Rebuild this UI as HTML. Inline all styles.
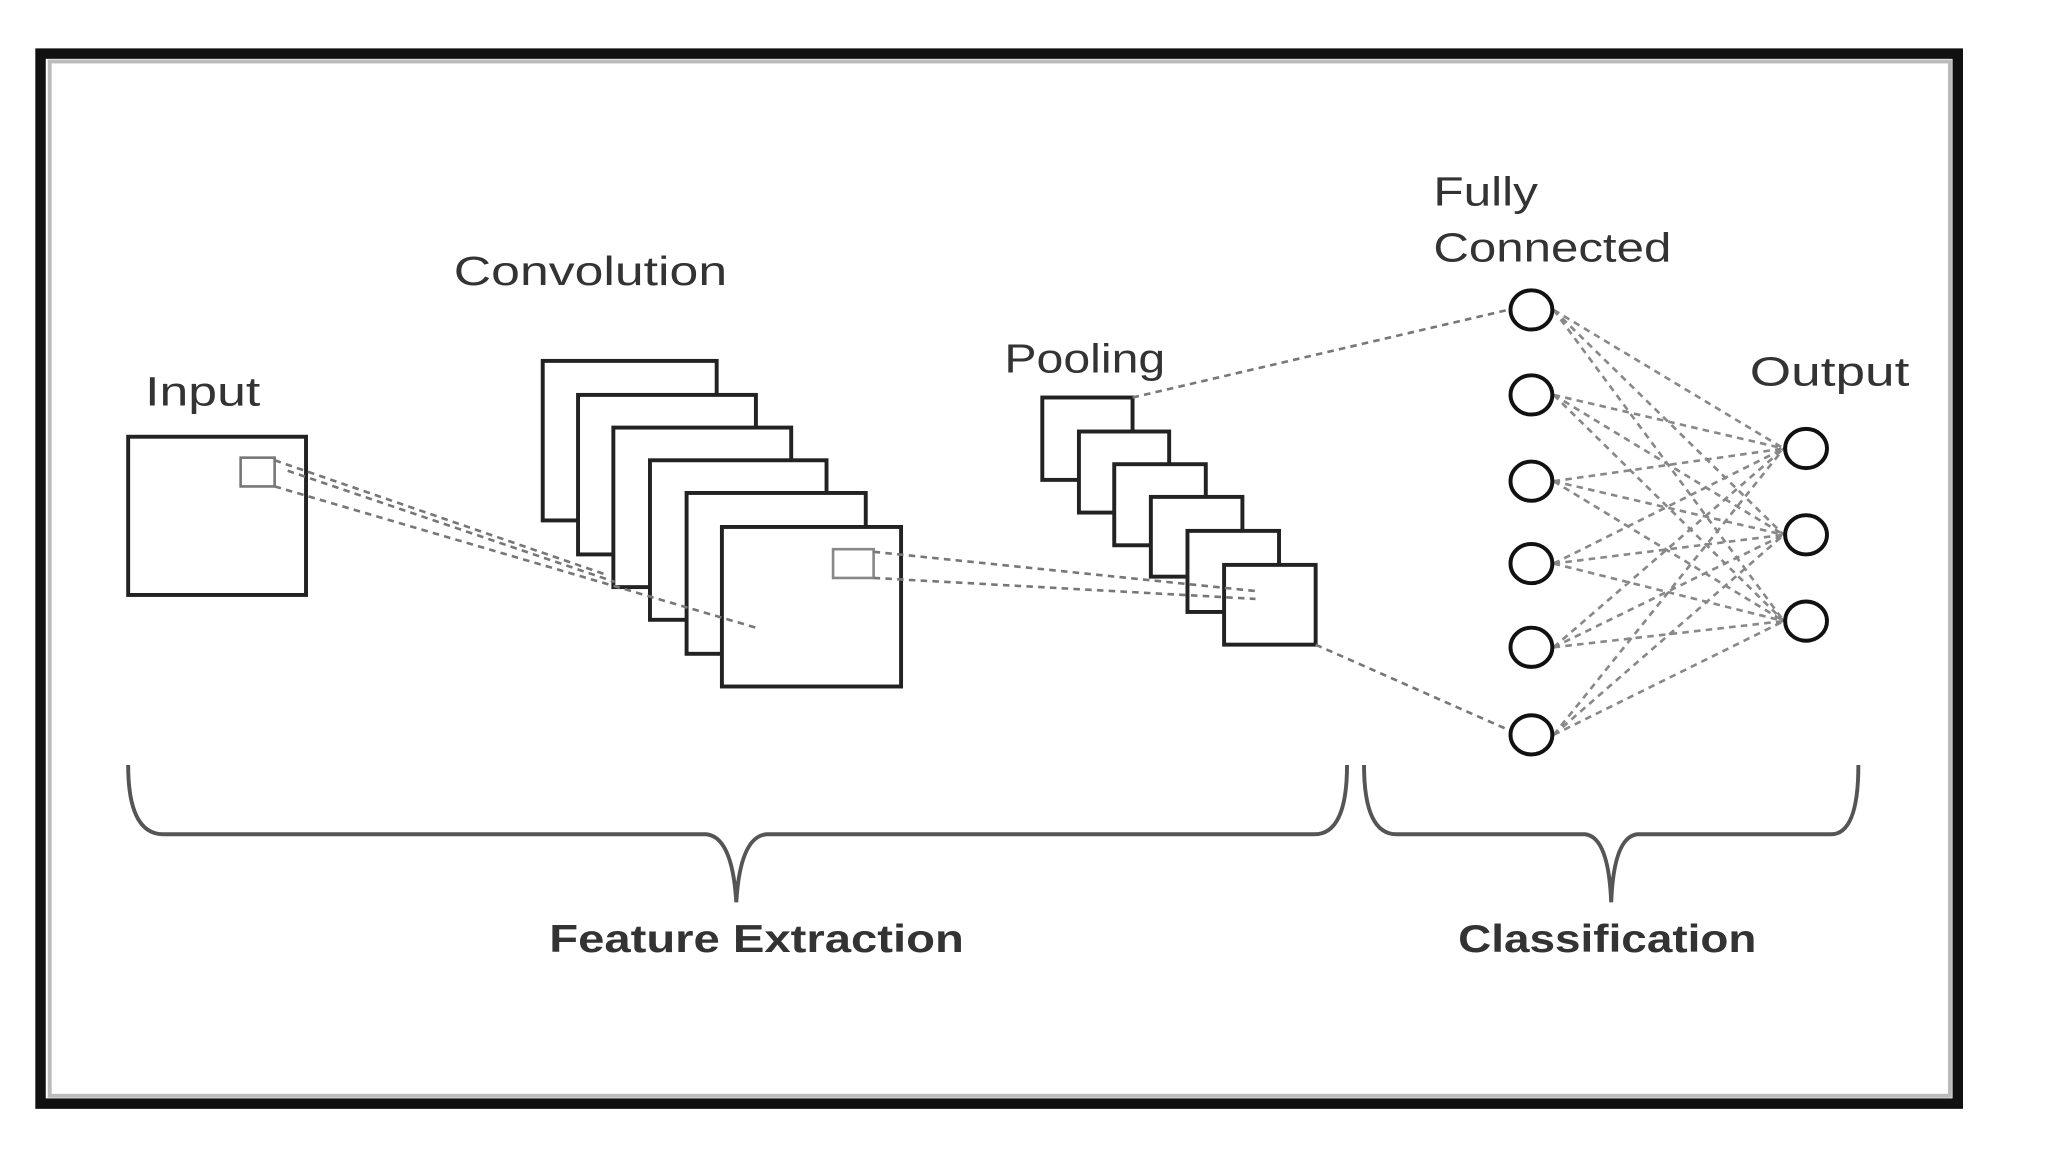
<!DOCTYPE html>
<html><head><style>
html,body{margin:0;padding:0;background:#fff;}
svg{display:block;}
text{font-family:"Liberation Sans",sans-serif;fill:#333;}
</style></head><body>
<svg width="2048" height="1152" viewBox="0 0 1566 881" preserveAspectRatio="none" xmlns="http://www.w3.org/2000/svg">
<rect x="0" y="0" width="1566" height="881" fill="#fff"/>
<rect x="31" y="41" width="1466" height="803" fill="none" stroke="#111" stroke-width="8"/>
<rect x="38" y="47" width="1453" height="791" fill="none" stroke="#bbb" stroke-width="3"/>

<g fill="#fff" stroke="#222" stroke-width="3">
<rect x="98" y="334" width="136" height="121"/>
<rect x="184" y="350" width="26" height="22" stroke="#777" stroke-width="2"/>
<rect x="415" y="276" width="133" height="122"/>
<rect x="442" y="302" width="136" height="122"/>
<rect x="469" y="327" width="136" height="122"/>
<rect x="497" y="352" width="135" height="122"/>
<rect x="525" y="377" width="137" height="123"/>
<rect x="552" y="403" width="137" height="122"/>
<rect x="637" y="420" width="31" height="22" stroke="#888" stroke-width="2"/>
<rect x="797" y="304" width="69" height="63"/>
<rect x="825" y="330" width="69" height="62"/>
<rect x="852" y="355" width="70" height="62"/>
<rect x="880" y="380" width="70" height="61"/>
<rect x="908" y="406" width="70" height="62"/>
<rect x="936" y="432" width="70" height="61"/>
</g>

<g stroke="#777" stroke-width="2" stroke-dasharray="5,4" fill="none">
<line x1="210" y1="352" x2="465" y2="440"/>
<line x1="210" y1="372" x2="578" y2="480"/>
<line x1="220" y1="360" x2="470" y2="445"/>
<line x1="668" y1="422" x2="960" y2="452"/>
<line x1="668" y1="442" x2="960" y2="458"/>
<line x1="866" y1="304" x2="1153" y2="237"/>
<line x1="1006" y1="493" x2="1153" y2="558"/>
</g>
<g stroke="#888" stroke-width="2" stroke-dasharray="5,4" fill="none">
<path d="M1188 237L1364 343M1188 237L1364 409M1188 237L1364 475
M1188 302L1364 343M1188 302L1364 409M1188 302L1364 475
M1188 368L1364 343M1188 368L1364 409M1188 368L1364 475
M1188 431L1364 343M1188 431L1364 409M1188 431L1364 475
M1188 495L1364 343M1188 495L1364 409M1188 495L1364 475
M1188 562L1364 343M1188 562L1364 409M1188 562L1364 475"/>
</g>
<g fill="#fff" stroke="#111" stroke-width="3">
<ellipse cx="1171" cy="237" rx="16" ry="15"/>
<ellipse cx="1171" cy="302" rx="16" ry="15"/>
<ellipse cx="1171" cy="368" rx="16" ry="15"/>
<ellipse cx="1171" cy="431" rx="16" ry="15"/>
<ellipse cx="1171" cy="495" rx="16" ry="15"/>
<ellipse cx="1171" cy="562" rx="16" ry="15"/>
<ellipse cx="1381" cy="343" rx="16" ry="15"/>
<ellipse cx="1381" cy="409" rx="16" ry="15"/>
<ellipse cx="1381" cy="475" rx="16" ry="15"/>
</g>

<g fill="none" stroke="#555" stroke-width="3">
<path d="M98 585 Q98 638 125 638 L540 638 Q560 640 563 690 Q566 640 586 638 L1005 638 Q1030 638 1030 585"/>
<path d="M1043 585 Q1043 638 1068 638 L1212 638 Q1230 640 1232 690 Q1234 640 1252 638 L1400 638 Q1421 638 1421 585"/>
</g>

<g lengthAdjust="spacingAndGlyphs">
<text x="111" y="310" font-size="31" textLength="88" lengthAdjust="spacingAndGlyphs">Input</text>
<text x="347" y="218" font-size="31" textLength="209" lengthAdjust="spacingAndGlyphs">Convolution</text>
<text x="768" y="285" font-size="31" textLength="123" lengthAdjust="spacingAndGlyphs">Pooling</text>
<text x="1096" y="157" font-size="31" textLength="80" lengthAdjust="spacingAndGlyphs">Fully</text>
<text x="1096" y="200" font-size="31" textLength="182" lengthAdjust="spacingAndGlyphs">Connected</text>
<text x="1338" y="295" font-size="31" textLength="122" lengthAdjust="spacingAndGlyphs">Output</text>
<text x="420" y="728" font-size="30" font-weight="bold" fill="#222" textLength="317" lengthAdjust="spacingAndGlyphs">Feature Extraction</text>
<text x="1115" y="728" font-size="30" font-weight="bold" fill="#222" textLength="228" lengthAdjust="spacingAndGlyphs">Classification</text>
</g>
</svg>
</body></html>
